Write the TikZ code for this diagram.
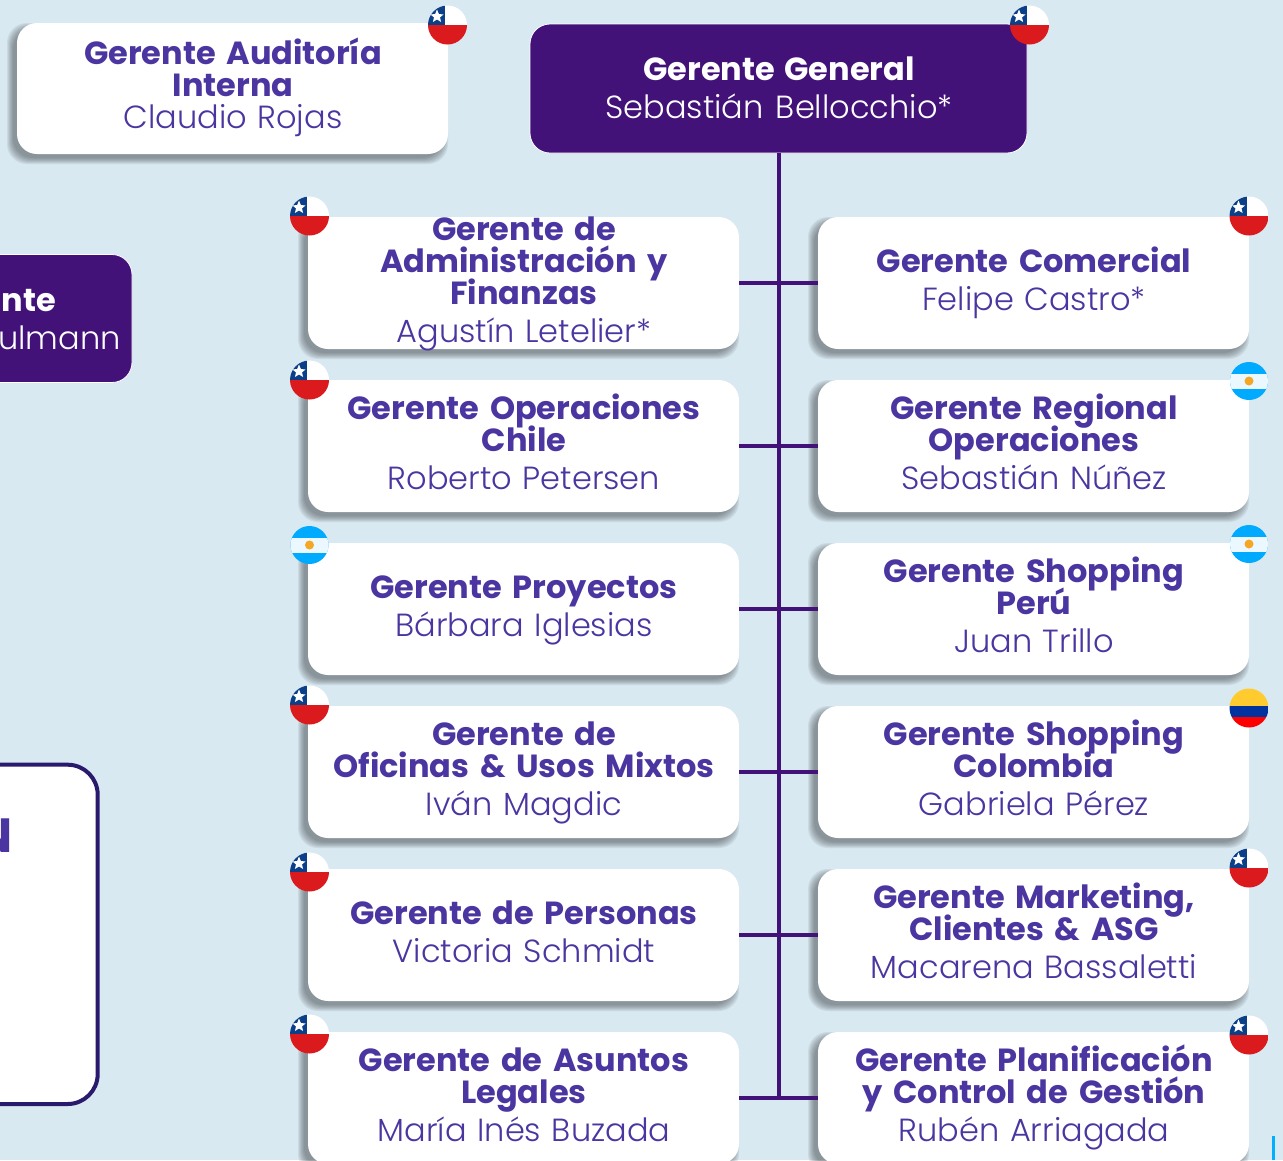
\documentclass[tikz,border=0pt]{standalone}
\usepackage{fontspec}
\setmainfont{Poppins}[BoldFont={Poppins Bold},WordSpace=1.4]
\newfontfamily\namefont{Poppins Light}[WordSpace=1.4]
\definecolor{bgc}{HTML}{D9E9F1}
\definecolor{purp}{HTML}{421279}
\definecolor{ink}{HTML}{4B35A0}
\definecolor{framec}{HTML}{2A1A6E}
\definecolor{clblue}{HTML}{0B3F87}
\definecolor{clred}{HTML}{DA1A1D}
\definecolor{arblue}{HTML}{00AAFF}
\definecolor{arsun}{HTML}{F5A623}
\definecolor{coyel}{HTML}{FFCB2F}
\definecolor{coblue}{HTML}{0033A0}
\definecolor{cored}{HTML}{FF0000}
\definecolor{barblue}{HTML}{00B0FF}
\newcommand{\st}{\hspace*{1pt}\rule[-4pt]{0pt}{24pt}}
\newcommand{\ttl}[1]{{\bfseries\st\smash{#1}}}
\newcommand{\nm}[1]{{\namefont\st\smash{#1}}}
\tikzset{
  x=1pt,y=-1pt,
  lblfont/.style={font=\fontsize{32}{32}\selectfont},
  card/.style={rectangle,rounded corners=20pt,fill=white,minimum width=431pt,minimum height=132pt,
    anchor=north west,inner sep=0pt,outer sep=0pt,align=center,text=ink,text width=431pt,lblfont},
  topbox/.style={rectangle,rounded corners=20pt,fill=purp,draw=white,line width=0.8pt,
    anchor=north west,inner sep=0pt,align=center,text=white,lblfont},
  linkline/.style={draw=purp,line width=4pt},
}
\newcommand{\softshadow}[4]{%
  \foreach \e in {5,4,3,2,1,0,-1}{%
    \fill[black!75!bgc,opacity=0.085,rounded corners=20pt]
      (#1-5-\e,#2+5-\e) rectangle (#3-5+\e,#4+5+\e);}}
\newcommand{\flagcl}[2]{%
  \begin{scope}[shift={(#1,#2)}]
    \begin{scope}
      \clip (0,0) circle[radius=19.5];
      \fill[white] (-20,-20) rectangle (20,0);
      \fill[clred] (-20,0) rectangle (20,20);
      \fill[clblue] (-20,-20) rectangle (-2.5,0);
      \fill[white] (-10.5,-15.5) -- (-8.6,-10.9) -- (-3.9,-10.6) -- (-7.5,-7.6) -- (-6.4,-3) -- (-10.5,-5.5) -- (-14.6,-3) -- (-13.5,-7.6) -- (-17.1,-10.6) -- (-12.4,-10.9) -- cycle;
    \end{scope}
  \end{scope}}
\newcommand{\flagar}[2]{%
  \begin{scope}[shift={(#1,#2)}]
    \begin{scope}
      \clip (0,0) circle[radius=19];
      \fill[arblue] (-20,-20) rectangle (20,20);
      \fill[white!92!arblue] (-20,-7.5) rectangle (20,7.5);
      \fill[arsun] (0,0) circle[radius=4.5];
    \end{scope}
  \end{scope}}
\newcommand{\flagco}[2]{%
  \begin{scope}[shift={(#1,#2)}]
    \begin{scope}
      \clip (0,0) circle[radius=19.5];
      \fill[coyel] (-20,-20) rectangle (20,-2);
      \fill[coblue] (-20,-2) rectangle (20,9);
      \fill[cored] (-20,9) rectangle (20,20);
    \end{scope}
  \end{scope}}
\newcommand{\cardat}[4]{% name x y text
  \softshadow{#2}{#3}{#2+431}{#3+132}
  \node[card] (#1) at (#2,#3) {#4};}
\begin{document}
\begin{tikzpicture}
\useasboundingbox (0,0) rectangle (1283,1160);
\clip (0,0) rectangle (1283,1160);
\fill[bgc] (0,0) rectangle (1283,1160);

% partial boxes at the left edge
\node[topbox,minimum width=172pt,minimum height=128pt] (side) at (-40.4,254.1) {};
\node[anchor=base east,text=white,inner sep=0pt,lblfont] (sidet) at (56,311) {\ttl{nte}};
\node[anchor=base east,text=white,inner sep=0pt,lblfont] (siden) at (121,349) {\nm{ulmann}};
\node[rectangle,rounded corners=30pt,draw=framec,line width=4pt,fill=white,anchor=north west,
  minimum width=137.7pt,minimum height=339.3pt,inner sep=0pt] (frame) at (-42,762.7) {};
\node[anchor=base east,text=ink,inner sep=0pt] (framet) at (13,852) {\fontsize{48}{48}\selectfont\bfseries N};

% top row
\softshadow{17}{23}{448}{154}
\node[card,minimum height=131pt] (audit) at (17,23) {\ttl{Gerente Auditoría}\\\ttl{Interna}\\\nm{Claudio Rojas}};
\node[topbox,minimum width=497pt,minimum height=129pt] (gg) at (529.6,23.6)
  {\rule{0pt}{25pt}\ttl{Gerente General}\\[6pt]\nm{Sebastián Bellocchio*}};

% cards
\cardat{l1}{308}{217}{\ttl{Gerente de}\\\ttl{Administración y}\\\ttl{Finanzas}\\[6pt]\nm{Agustín Letelier*}}
\cardat{r1}{818}{217}{\ttl{Gerente Comercial}\\[6pt]\nm{Felipe Castro*}}
\cardat{l2}{308}{380}{\ttl{Gerente Operaciones}\\\ttl{Chile}\\[6pt]\nm{Roberto Petersen}}
\cardat{r2}{818}{380}{\ttl{Gerente Regional}\\\ttl{Operaciones}\\[6pt]\nm{Sebastián Núñez}}
\cardat{l3}{308}{543}{\ttl{Gerente Proyectos}\\[6pt]\nm{Bárbara Iglesias}}
\cardat{r3}{818}{543}{\ttl{Gerente Shopping}\\\ttl{Perú}\\[6pt]\nm{Juan Trillo}}
\cardat{l4}{308}{706}{\ttl{Gerente de}\\\ttl{Oficinas \& Usos Mixtos}\\[6pt]\nm{Iván Magdic}}
\cardat{r4}{818}{706}{\ttl{Gerente Shopping}\\\ttl{Colombia}\\[6pt]\nm{Gabriela Pérez}}
\cardat{l5}{308}{869}{\ttl{Gerente de Personas}\\[6pt]\nm{Victoria Schmidt}}
\cardat{r5}{818}{869}{\ttl{Gerente Marketing,}\\\ttl{Clientes \& ASG}\\[6pt]\nm{Macarena Bassaletti}}
\cardat{l6}{308}{1032}{\ttl{Gerente de Asuntos}\\\ttl{Legales}\\[6pt]\nm{María Inés Buzada}}
\cardat{r6}{818}{1032}{\ttl{Gerente Planificación}\\\ttl{y Control de Gestión}\\[6pt]\nm{Rubén Arriagada}}

% connectors
\coordinate (spineend) at (gg.south |- l6.east);
\draw[linkline] (gg.south) -- (spineend);
\foreach \i in {1,...,6}{\draw[linkline] (l\i.east) -- (r\i.west);}

% flags
\flagcl{447.5}{25}
\flagcl{1029.5}{25}
\flagcl{309.5}{216}
\flagcl{1249}{216}
\flagcl{309.5}{380}
\flagar{1249}{381}
\flagar{309.5}{545}
\flagar{1249}{544}
\flagcl{309.5}{705}
\flagco{1249}{708}
\flagcl{309.5}{872}
\flagcl{1249}{868}
\flagcl{309.5}{1034}
\flagcl{1249}{1035}

\fill[barblue] (1271.5,1136) rectangle (1275,1160);
\end{tikzpicture}
\end{document}
